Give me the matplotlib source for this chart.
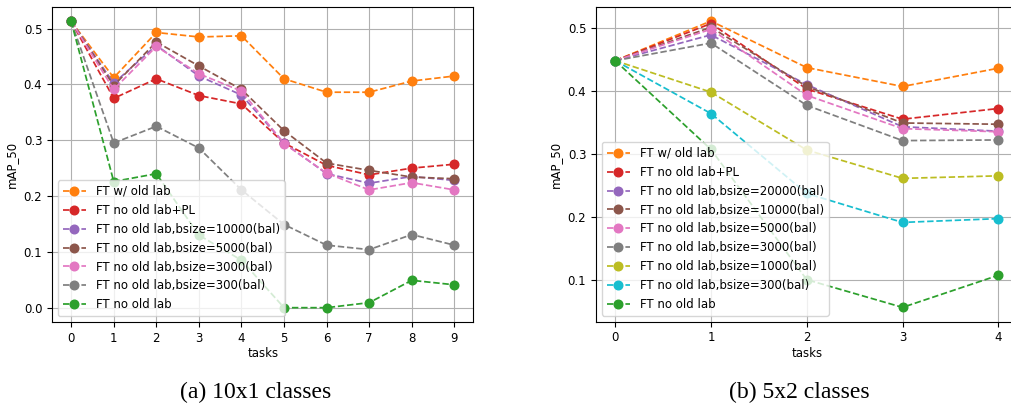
import matplotlib
matplotlib.use("Agg")
import matplotlib.pyplot as plt

# ---- (a) 10x1 classes ----
tasks_a = [0, 1, 2, 3, 4, 5, 6, 7, 8, 9]
a_old_lab = [0.513, 0.412, 0.493, 0.485, 0.487, 0.410, 0.386, 0.386, 0.406, 0.415]
a_pl = [0.513, 0.375, 0.410, 0.380, 0.365, 0.295, 0.255, 0.238, 0.250, 0.257]
a_b10000 = [0.513, 0.402, 0.470, 0.415, 0.381, 0.295, 0.240, 0.223, 0.235, 0.228]
a_b5000 = [0.513, 0.398, 0.476, 0.433, 0.391, 0.317, 0.259, 0.246, 0.234, 0.231]
a_b3000 = [0.513, 0.391, 0.468, 0.419, 0.388, 0.294, 0.241, 0.211, 0.224, 0.211]
a_b300 = [0.513, 0.295, 0.325, 0.286, 0.211, 0.149, 0.112, 0.104, 0.131, 0.112]
a_no_old = [0.513, 0.226, 0.240, 0.130, 0.085, 0.000, 0.000, 0.009, 0.049, 0.041]

# ---- (b) 5x2 classes ----
tasks_b = [0, 1, 2, 3, 4]
b_old_lab = [0.448, 0.511, 0.437, 0.407, 0.436]
b_pl = [0.448, 0.507, 0.403, 0.355, 0.372]
b_b20000 = [0.448, 0.489, 0.410, 0.343, 0.336]
b_b10000 = [0.448, 0.501, 0.407, 0.349, 0.347]
b_b5000 = [0.448, 0.498, 0.393, 0.340, 0.335]
b_b3000 = [0.448, 0.476, 0.377, 0.321, 0.322]
b_b1000 = [0.448, 0.398, 0.306, 0.261, 0.265]
b_b300 = [0.448, 0.364, 0.237, 0.191, 0.197]
b_no_old = [0.448, 0.307, 0.100, 0.056, 0.107]

series_a = [
    ("FT w/ old lab", a_old_lab, "tab:orange"),
    ("FT no old lab+PL", a_pl, "tab:red"),
    ("FT no old lab,bsize=10000(bal)", a_b10000, "tab:purple"),
    ("FT no old lab,bsize=5000(bal)", a_b5000, "tab:brown"),
    ("FT no old lab,bsize=3000(bal)", a_b3000, "tab:pink"),
    ("FT no old lab,bsize=300(bal)", a_b300, "tab:gray"),
    ("FT no old lab", a_no_old, "tab:green"),
]
series_b = [
    ("FT w/ old lab", b_old_lab, "tab:orange"),
    ("FT no old lab+PL", b_pl, "tab:red"),
    ("FT no old lab,bsize=20000(bal)", b_b20000, "tab:purple"),
    ("FT no old lab,bsize=10000(bal)", b_b10000, "tab:brown"),
    ("FT no old lab,bsize=5000(bal)", b_b5000, "tab:pink"),
    ("FT no old lab,bsize=3000(bal)", b_b3000, "tab:gray"),
    ("FT no old lab,bsize=1000(bal)", b_b1000, "tab:olive"),
    ("FT no old lab,bsize=300(bal)", b_b300, "tab:cyan"),
    ("FT no old lab", b_no_old, "tab:green"),
]

FS = 8.5
plt.rcParams.update({
    "font.family": "DejaVu Sans",
    "font.size": FS,
    "legend.fontsize": FS,
    "xtick.labelsize": FS,
    "ytick.labelsize": FS,
    "axes.labelsize": FS,
})

fig = plt.figure(figsize=(10.12, 4.03), dpi=100)
W, H = 1012.0, 403.0
ax_a = fig.add_axes([52 / W, 81 / H, 421.5 / W, 315 / H])
ax_b = fig.add_axes([596 / W, 81.3 / H, 421.5 / W, 315 / H])


def draw(ax, x, series):
    for label, vals, color in series:
        ax.plot(x, vals, "--o", color=color, label=label,
                linewidth=1.25, markersize=6.2)
    ax.set_xticks(x)
    ax.set_xlabel("tasks", labelpad=1.5)
    ax.set_ylabel("mAP_50")
    ax.grid(True)
    ax.legend(loc="lower left")


draw(ax_a, tasks_a, series_a)
draw(ax_b, tasks_b, series_b)

fig.text(255.5 / W, 5 / H, "(a) 10x1 classes", ha="center", va="baseline",
         family="Liberation Serif", fontsize=17)
fig.text(799.7 / W, 5 / H, "(b) 5x2 classes", ha="center", va="baseline",
         family="Liberation Serif", fontsize=17)

fig.savefig("out.png", dpi=100)
